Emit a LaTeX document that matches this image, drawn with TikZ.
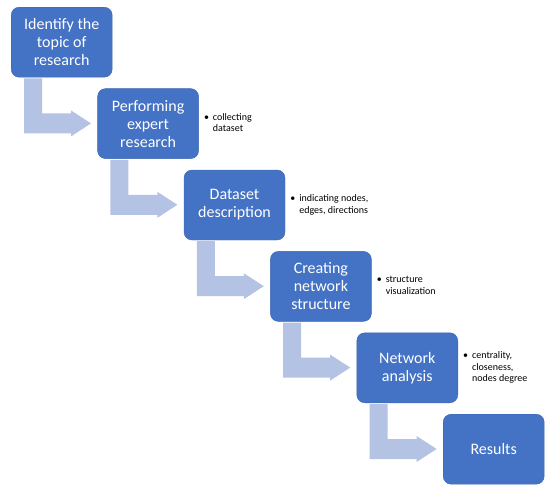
\documentclass[tikz,border=0pt]{standalone}
\usepackage{fontspec}
\setmainfont{Carlito}
\usetikzlibrary{positioning, calc}

\definecolor{stepblue}{HTML}{4472C4}
\definecolor{arrowblue}{HTML}{B4C3E4}
\newcommand{\bulletnote}[1]{\begin{tabular}[c]{@{}l@{\hspace{4pt}}l@{}}\textbullet & #1\end{tabular}}

\begin{document}
\begin{tikzpicture}[
    x=1pt, y=1pt,
    node distance=11pt and -15pt,
    stepbox/.style={
        rectangle, fill=stepblue, draw=stepblue!90!black,
        rounded corners=8pt,
        minimum width=101pt, minimum height=70pt,
        align=center, text=white, inner sep=2pt,
        font=\fontsize{16}{18}\selectfont
    },
    notebox/.style={font=\fontsize{10}{11.5}\selectfont, inner sep=0pt},
    bentarrow/.style={fill=arrowblue, draw=none}
]
\useasboundingbox (0,0) rectangle (550,-490);

% Steps
\node[stepbox, anchor=north west] (topic) at (11,-7) {Identify the\\topic of\\research};
\node[stepbox, below right=of topic] (expert) {Performing\\expert\\research};
\node[stepbox, below right=of expert] (dataset) {Dataset\\description};
\node[stepbox, below right=of dataset] (network) {Creating\\network\\structure};
\node[stepbox, below right=of network] (analysis) {Network\\analysis};
\node[stepbox, below right=of analysis] (results) {Results};

% Notes
\node[notebox, right=5pt of expert] (expertnote) {\bulletnote{collecting\\ & dataset}};
\node[notebox, right=5pt of dataset] (datasetnote) {\bulletnote{indicating nodes,\\ & edges, directions}};
\node[notebox, right=5pt of network] (networknote) {\bulletnote{structure\\ & visualization}};
\node[notebox, right=5pt of analysis] (analysisnote) {\bulletnote{centrality,\\ & closeness,\\ & nodes degree}};

% Connectors
\foreach \a in {topic, expert, dataset, network, analysis}
  \fill[bentarrow] (\a.south west) ++(13,-1) -- ++(18,0) -- ++(0,-35) -- ++(29,0)
    -- ++(0,3) -- ++(20,-13) -- ++(-20,-13) -- ++(0,3) -- ++(-47,0) -- cycle;

\end{tikzpicture}
\end{document}
